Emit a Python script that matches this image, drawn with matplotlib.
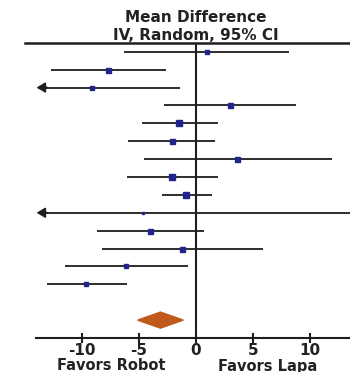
import matplotlib
matplotlib.use("Agg")
import matplotlib.pyplot as plt
from matplotlib.lines import Line2D
from matplotlib.patches import Polygon

# Study rows (top to bottom)
est = [1.0, -7.7, -9.1, 3.0, -1.5, -2.1, 3.6, -2.1, -0.9, -4.6, -4.0, -1.2, -6.1, -9.6]
lo = [-6.3, -12.7, -20.0, -2.8, -4.7, -5.9, -4.5, -6.0, -3.0, -20.0, -8.7, -8.2, -11.5, -13.0]
hi = [8.2, -2.6, -1.4, 8.8, 1.9, 1.7, 11.9, 1.9, 1.4, 20.0, 0.7, 5.9, -0.7, -6.0]
weight = [4.0, 4.5, 3.2, 4.5, 5.5, 4.5, 4.5, 5.5, 5.0, 2.0, 4.5, 4.5, 4.0, 4.0]

pooled_est = -3.1
pooled_lo = -5.1
pooled_hi = -1.1

xticks = [-10, -5, 0, 5, 10]
title_lines = ["Mean Difference", "IV, Random, 95% CI"]
left_label = "Favors Robot"
right_label = "Favors Lapa"

plt.rcParams['font.family'] = ['DejaVu Sans']

W, H = 350, 372
fig = plt.figure(figsize=(W / 100, H / 100), dpi=100)
ax = fig.add_axes([36 / W, 1 - 338 / H, 1 - 36 / W, (338 - 43) / H])
XMIN, XMAX = -14.0, 13.5
ax.set_xlim(XMIN, XMAX)
ax.set_ylim(17.0, 0.51)

line_c = "#1e1e1e"
sq_c = "#23238c"
txt_c = "#222222"
n = len(est)
for i in range(n):
    y = i + 1
    l = max(lo[i], XMIN + 0.15)
    h = min(hi[i], XMAX + 1)
    ax.plot([l, h], [y, y], color=line_c, lw=1.3, solid_capstyle='butt', zorder=2)
    if lo[i] < XMIN:
        ax.annotate("", xy=(XMIN + 0.05, y), xytext=(XMIN + 1.0, y),
                    arrowprops=dict(arrowstyle="-|>,head_length=0.5,head_width=0.3",
                                    color=line_c, lw=1.3, shrinkA=0, shrinkB=0),
                    zorder=3)
    ax.plot([est[i]], [y], marker='s', ms=weight[i] * 0.8, color=sq_c,
            mec=sq_c, zorder=4)

yd = n + 2
dh = 0.45
diamond = Polygon([[pooled_lo, yd], [pooled_est, yd - dh], [pooled_hi, yd],
                   [pooled_est, yd + dh]], closed=True, fc="#c05a1c", ec="#c05a1c", zorder=4)
ax.add_patch(diamond)

ax.axvline(0, color=line_c, lw=1.5, zorder=1)

for s in ['top', 'right', 'left']:
    ax.spines[s].set_visible(False)
ax.spines['bottom'].set_linewidth(1.5)
ax.spines['bottom'].set_color(line_c)
ax.set_yticks([])
ax.set_xticks(xticks)
ax.set_xticklabels([str(t) for t in xticks], fontsize=11, fontweight='bold', color=txt_c)
ax.tick_params(axis='x', direction='inout', length=7, width=1.5, color=line_c, pad=0)

# Top horizontal line
fig.add_artist(Line2D([25 / W, 1.0], [1 - 43 / H, 1 - 43 / H], color=line_c, lw=1.8,
                      transform=fig.transFigure))

fig.text(196 / W, 1 - 18 / H, title_lines[0], ha='center', va='center',
         fontsize=11, fontweight='bold', color=txt_c)
fig.text(196 / W, 1 - 35 / H, title_lines[1], ha='center', va='center',
         fontsize=11, fontweight='bold', color=txt_c)

fig.text(111 / W, 1 - 366 / H, left_label, ha='center', va='center',
         fontsize=10.5, fontweight='bold', color=txt_c)
fig.text(268 / W, 1 - 366 / H, right_label, ha='center', va='center',
         fontsize=10.5, fontweight='bold', color=txt_c)

fig.savefig("out.png", dpi=100, facecolor='white')
